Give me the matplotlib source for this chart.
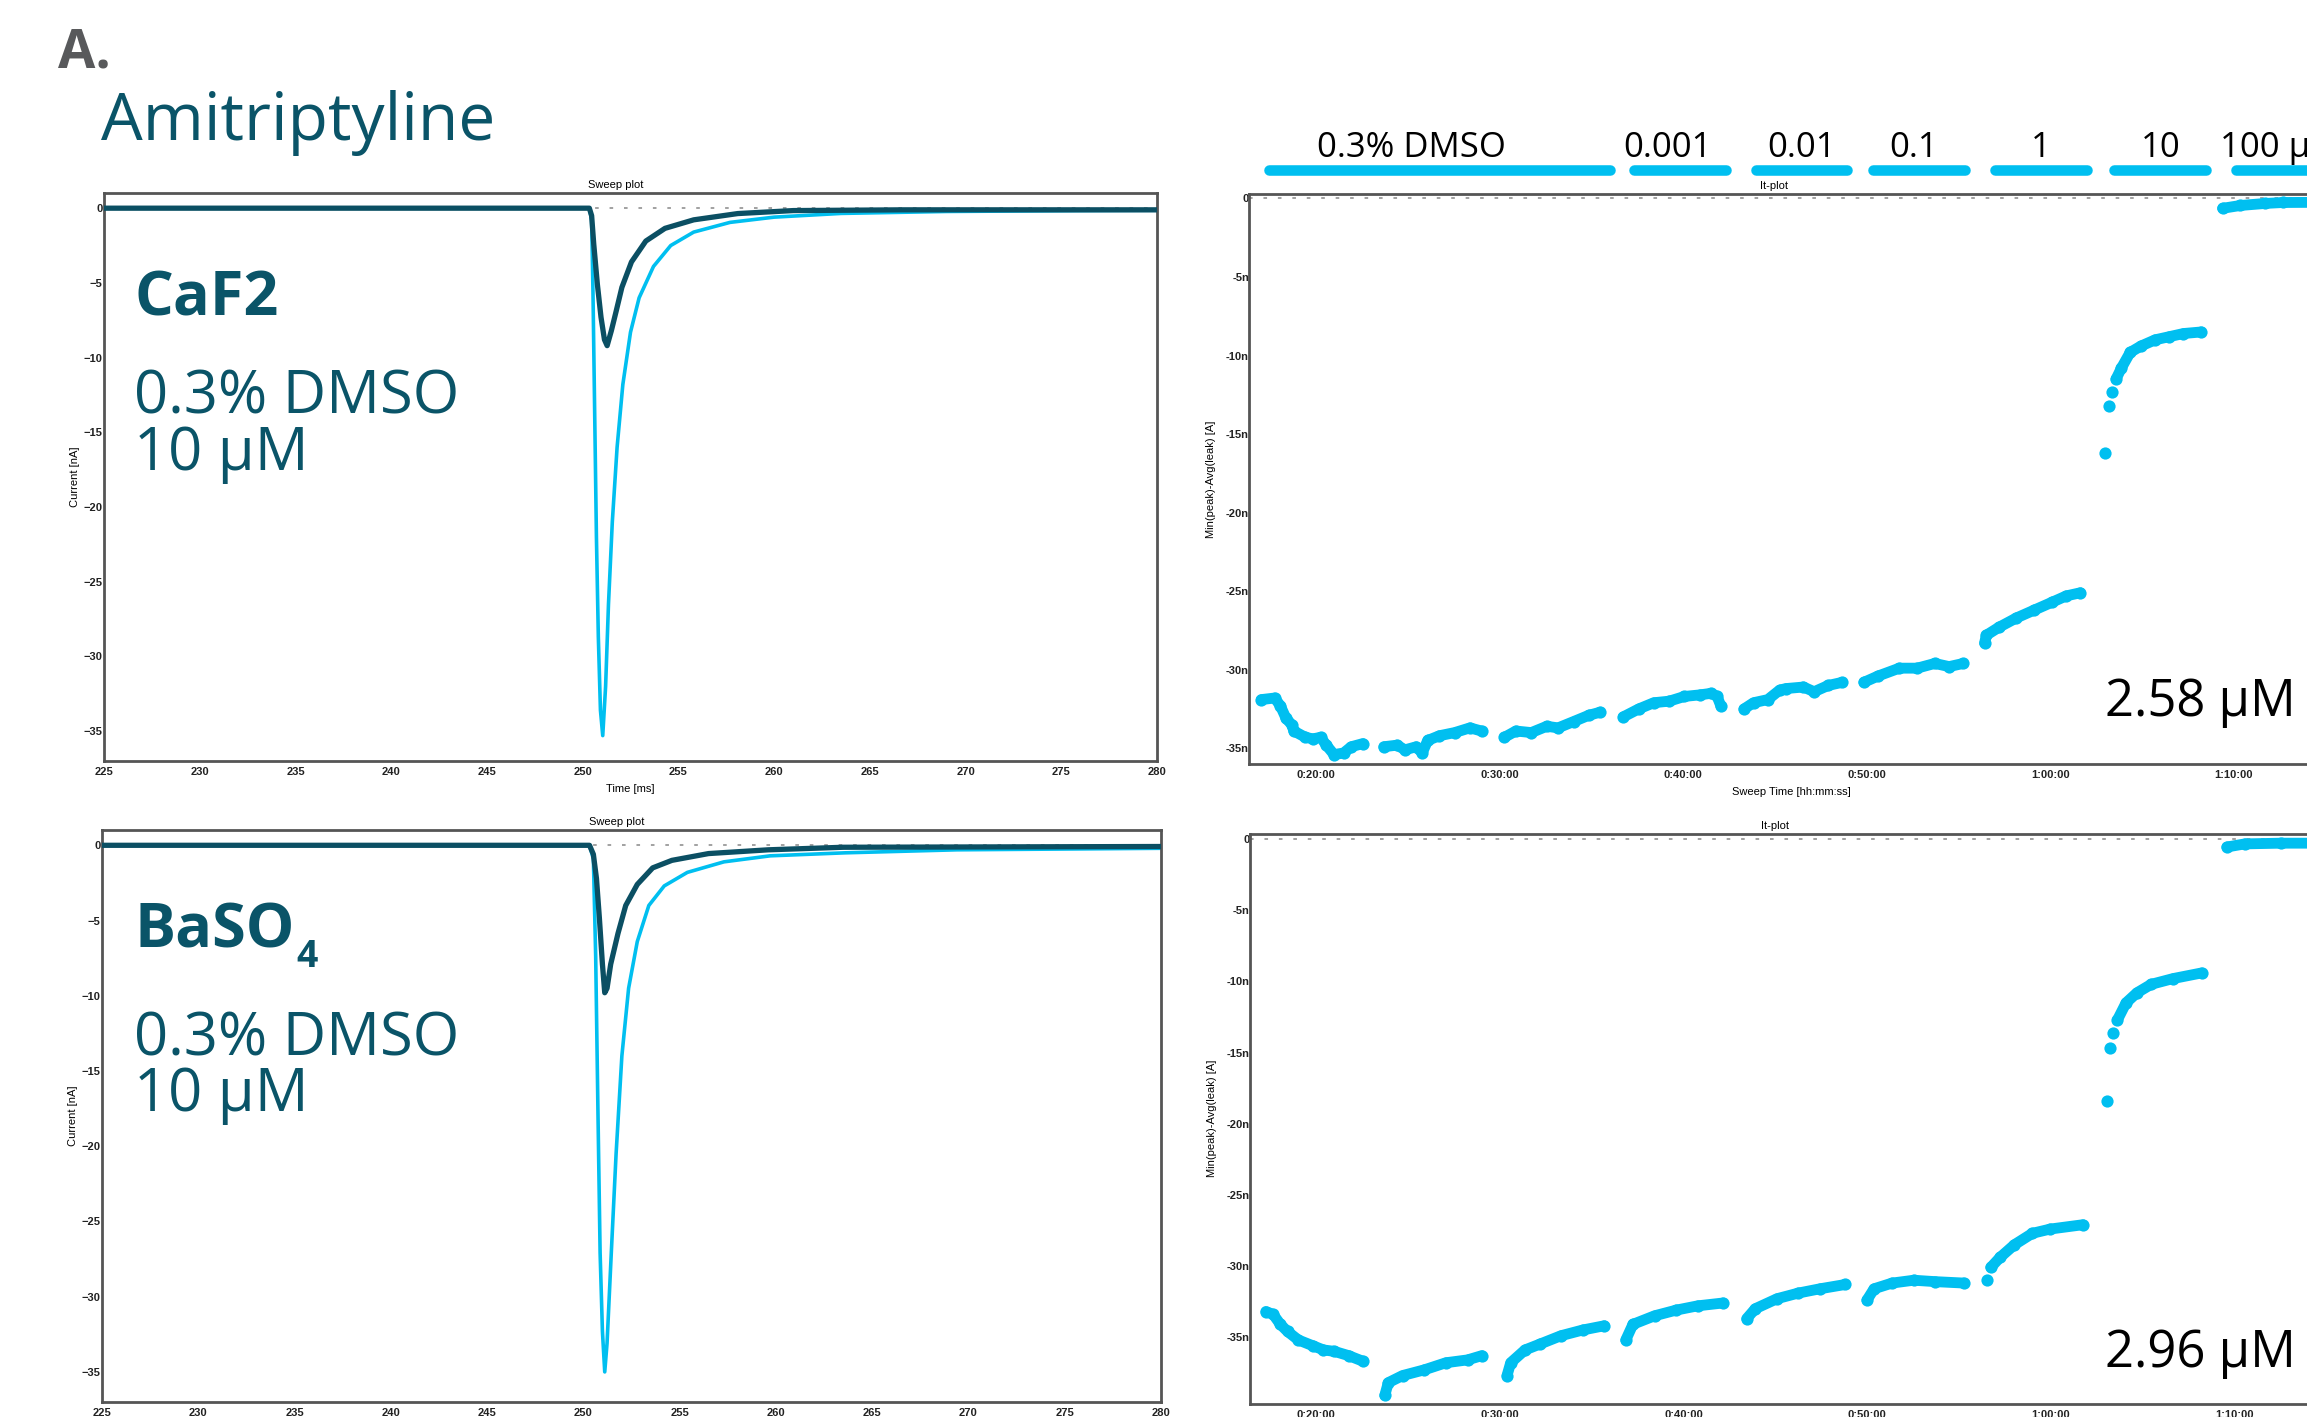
import matplotlib
matplotlib.use("Agg")
import matplotlib.pyplot as plt
from matplotlib.ticker import FuncFormatter, MultipleLocator
from matplotlib.transforms import blended_transform_factory

W, H, DPI = 2307, 1417, 100

# ---- sweep traces: time [ms], current [nA]
caf2_dmso_t = [225, 250.35, 250.47, 250.54, 250.63, 250.72, 250.82, 250.93, 251.05,
               251.2, 251.35, 251.55, 251.8, 252.1, 252.5, 252.95, 253.7,
               254.6, 255.8, 257.7, 260.0, 263.5, 269.0, 276.0, 280]
caf2_dmso_i = [0, 0, -0.8, -5.6, -13.8, -22.0, -28.7, -33.6, -35.3,
               -32.0, -26.5, -21.0, -16.0, -11.8, -8.3, -6.0, -3.9,
               -2.5, -1.6, -0.95, -0.6, -0.35, -0.22, -0.16, -0.14]
caf2_drug_t = [225, 250.35, 250.47, 250.58, 250.77, 250.96, 251.14, 251.28, 251.5,
               251.75, 252.05, 252.55, 253.3, 254.3, 255.8, 258.1, 261.0,
               266.7, 280]
caf2_drug_i = [0, 0, -0.5, -2.4, -5.1, -7.3, -8.8, -9.2, -8.2,
               -6.9, -5.3, -3.6, -2.2, -1.35, -0.78, -0.36, -0.16, -0.11, -0.11]

baso_dmso_t = [225, 250.32, 250.52, 250.64, 250.76, 250.87, 250.99, 251.11, 251.23,
               251.45, 251.7, 252.0, 252.35, 252.8, 253.4, 254.2, 255.4, 257.3,
               259.7, 263.6, 269.4, 280]
baso_dmso_i = [0, 0, -0.9, -7.4, -17.9, -27.1, -32.3, -35.0, -33.1,
               -27.1, -20.5, -14.0, -9.5, -6.4, -4.0, -2.7, -1.8, -1.1,
               -0.7, -0.5, -0.3, -0.2]
baso_drug_t = [225, 250.32, 250.52, 250.68, 250.83, 250.99, 251.11, 251.23, 251.42,
               251.8, 252.2, 252.8, 253.6, 254.6, 256.5, 259.6, 263.5, 280]
baso_drug_i = [0, 0, -0.6, -2.2, -4.8, -7.9, -9.8, -9.5, -7.9,
               -5.85, -4.0, -2.6, -1.5, -1.0, -0.55, -0.3, -0.13, -0.08]

# ---- It-plot points: sweep time [min], peak current [nA], one list per run of points
caf2_it = [
    ([17.04, 17.77, 18.08, 18.39, 18.7, 18.81, 19.44, 19.85, 20.27, 20.58, 21.0, 21.52, 21.94, 22.57],
     [-31.9, -31.8, -32.3, -33.1, -33.5, -33.9, -34.3, -34.4, -34.3, -34.8, -35.4, -35.3, -34.9, -34.7]),
    ([23.71, 24.44, 24.86, 25.48, 25.8, 26.1, 26.74, 27.57, 28.4, 29.03],
     [-34.9, -34.8, -35.1, -34.9, -35.3, -34.5, -34.2, -34.0, -33.7, -33.9]),
    ([30.28, 30.9, 31.74, 32.58, 33.2, 34.04, 34.87, 35.5],
     [-34.3, -33.9, -34.0, -33.6, -33.7, -33.3, -32.9, -32.7]),
    ([36.75, 37.58, 38.41, 39.25, 40.08, 40.92, 41.54, 41.86, 42.06],
     [-33.0, -32.5, -32.1, -32.0, -31.7, -31.6, -31.5, -31.7, -32.3]),
    ([43.32, 43.84, 44.62, 45.26, 45.59, 46.56, 47.14, 47.91, 48.68],
     [-32.5, -32.1, -31.9, -31.3, -31.2, -31.1, -31.4, -31.0, -30.8]),
    ([49.85, 50.62, 51.78, 52.75, 53.71, 54.49, 55.26],
     [-30.8, -30.4, -29.9, -29.9, -29.6, -29.8, -29.6]),
    ([56.42, 56.52, 57.2, 58.16, 59.13, 60.1, 60.87, 61.64],
     [-28.3, -27.8, -27.3, -26.7, -26.2, -25.7, -25.3, -25.1]),
    ([63.0], [-16.2]),
    ([63.19], [-13.2]),
    ([63.35], [-12.3]),
    ([63.58, 63.87, 64.35, 64.93, 65.71, 66.48, 67.25, 68.22],
     [-11.5, -10.8, -9.8, -9.4, -9.0, -8.8, -8.6, -8.5]),
    ([69.38, 70.35, 71.7, 72.67, 74.5],
     [-0.63, -0.45, -0.32, -0.26, -0.25]),
]
baso_it = [
    ([17.25, 17.65, 18.04, 18.43, 19.02, 19.8, 20.39, 20.98, 21.76, 22.55],
     [-33.2, -33.4, -34.1, -34.6, -35.2, -35.6, -35.9, -36.0, -36.3, -36.7]),
    ([23.73, 23.92, 24.7, 25.88, 27.06, 28.24, 29.02],
     [-39.1, -38.2, -37.7, -37.3, -36.8, -36.6, -36.3]),
    ([30.39, 30.59, 31.37, 32.16, 33.33, 34.51, 35.69],
     [-37.7, -36.8, -35.9, -35.5, -34.9, -34.5, -34.2]),
    ([36.86, 37.25, 38.43, 39.61, 40.78, 42.16],
     [-35.2, -34.1, -33.5, -33.1, -32.8, -32.6]),
    ([43.45, 43.92, 45.1, 46.27, 47.45, 48.82],
     [-33.7, -33.0, -32.3, -31.9, -31.6, -31.3]),
    ([50.0, 50.39, 51.37, 52.55, 53.73, 55.29],
     [-32.4, -31.6, -31.2, -31.0, -31.1, -31.2]),
    ([56.55], [-31.0]),
    ([56.75, 57.25, 58.04, 59.02, 60.0, 61.76],
     [-30.1, -29.4, -28.5, -27.7, -27.4, -27.1]),
    ([63.06], [-18.4]),
    ([63.25], [-14.7]),
    ([63.41], [-13.6]),
    ([63.65, 64.12, 64.71, 65.49, 66.67, 68.24],
     [-12.7, -11.5, -10.8, -10.2, -9.8, -9.4]),
    ([69.61, 70.59, 72.55, 74.5],
     [-0.55, -0.33, -0.28, -0.28]),
]

# ---- application bars above the It-plot (minutes)
conc_labels = ["0.3% DMSO", "0.001", "0.01", "0.1", "1", "10", "100 µM"]
bar_start = [17.16, 37.06, 43.71, 50.08, 56.72, 63.18, 69.85]
bar_end = [36.30, 42.62, 49.21, 55.61, 62.28, 68.76, 77.0]
label_pos = [25.2, 39.15, 46.45, 52.55, 59.5, 66.0, 72.55]

ic50_caf2 = "2.58 µM"
ic50_baso = "2.96 µM"

CYAN = "#00bff0"
DARK = "#0b4f63"
TEAL = "#0a5468"
SPINE = "#555555"
TICKFONT = "Liberation Sans"

plt.rcParams["font.family"] = ["Open Sans", "DejaVu Sans"]

fig = plt.figure(figsize=(W / DPI, H / DPI), dpi=DPI)


def add_ax(left, top, right, bottom):
    # positions given in pixels of the full picture
    return fig.add_axes([left / W, 1 - bottom / H, (right - left) / W, (bottom - top) / H])


def frame(ax):
    for s in ax.spines.values():
        s.set_color(SPINE)
        s.set_linewidth(2)
    ax.tick_params(length=0, labelsize=8, colors="#222222",
                   labelfontfamily=TICKFONT)
    ax.tick_params(axis="x", pad=4.5)
    ax.tick_params(axis="y", pad=1)


def bold_ticks(ax):
    for lab in ax.get_xticklabels() + ax.get_yticklabels():
        lab.set_fontweight("bold")


def sweep(ax, t_c, i_c, t_d, i_d, xlabel):
    ax.axhline(0, color="#9a9a9a", ls=(0, (2, 6)), lw=1.3, zorder=1)
    ax.plot(t_c, i_c, color=CYAN, lw=2.6, zorder=2)
    ax.plot(t_d, i_d, color=DARK, lw=3.8, zorder=3)
    ax.set_xlim(225, 280)
    ax.set_ylim(-37, 1.05)
    ax.xaxis.set_major_locator(MultipleLocator(5))
    ax.yaxis.set_major_locator(MultipleLocator(5))
    frame(ax)
    ax.text(0.486, 1.004, "Sweep plot", transform=ax.transAxes, ha="center",
            va="bottom", fontsize=8, family=TICKFONT)
    ax.set_ylabel("Current [nA]", fontsize=8, family=TICKFONT)
    ax.yaxis.set_label_coords(-0.023, 0.5)
    if xlabel:
        ax.set_xlabel("Time [ms]", fontsize=8, family=TICKFONT)
        ax.xaxis.set_label_coords(0.5, -0.04)


def hms(v, pos):
    s = int(round(v * 60))
    return f"{s // 3600}:{(s % 3600) // 60:02d}:{s % 60:02d}"


def nano(v, pos):
    return "0" if abs(v) < 1e-9 else f"{v:.0f}n"


def itplot(ax, runs, ylim, xlabel):
    ax.axhline(0, color="#9a9a9a", ls=(0, (2, 6)), lw=1.3, zorder=1)
    for t, v in runs:
        ax.plot(t, v, color=CYAN, lw=7.8, marker="o", ms=8.8, mew=0,
                solid_capstyle="round", solid_joinstyle="round", zorder=3)
    ax.set_xlim(16.37, 75.23)
    ax.set_ylim(*ylim)
    ax.xaxis.set_major_locator(MultipleLocator(10))
    ax.xaxis.set_major_formatter(FuncFormatter(hms))
    ax.yaxis.set_major_locator(MultipleLocator(5))
    ax.yaxis.set_major_formatter(FuncFormatter(nano))
    frame(ax)
    ax.tick_params(axis="y", pad=0)
    ax.text(0.486, 1.004, "It-plot", transform=ax.transAxes, ha="center",
            va="bottom", fontsize=8, family=TICKFONT)
    ax.set_ylabel("Min(peak)-Avg(leak) [A]", fontsize=8, family=TICKFONT)
    ax.yaxis.set_label_coords(-0.0305, 0.5)
    if xlabel:
        ax.set_xlabel("Sweep Time [hh:mm:ss]", fontsize=8, family=TICKFONT)
        ax.xaxis.set_label_coords(0.502, -0.04)


ax_tl = add_ax(104, 192.5, 1157, 761)
ax_bl = add_ax(102, 829.5, 1161, 1402)
ax_tr = add_ax(1249, 193.7, 2330, 764)
ax_br = add_ax(1249.7, 833.5, 2330, 1404)

sweep(ax_tl, caf2_dmso_t, caf2_dmso_i, caf2_drug_t, caf2_drug_i, True)
sweep(ax_bl, baso_dmso_t, baso_dmso_i, baso_drug_t, baso_drug_i, False)
itplot(ax_tr, caf2_it, (-36.0, 0.3), True)
itplot(ax_br, baso_it, (-39.7, 0.4), False)
for a in (ax_tl, ax_bl, ax_tr, ax_br):
    bold_ticks(a)

# application bars and concentration labels
tr = blended_transform_factory(ax_tr.transData, fig.transFigure)
inset = 0.28
for s, e in zip(bar_start, bar_end):
    ax_tr.plot([s + inset, e - inset], [1 - 170 / H] * 2, transform=tr, color=CYAN,
               lw=7.6, solid_capstyle="round", clip_on=False)
for lab, x in zip(conc_labels, label_pos):
    ax_tr.text(x, 1 - 157 / H, lab, transform=tr, ha="center", va="baseline",
               fontsize=25, color="black", clip_on=False)


def ftext(x, y, s, **kw):
    return fig.text(x / W, 1 - y / H, s, ha="left", va="baseline", **kw)


ftext(58, 67, "A.", fontsize=39, fontweight="bold", color="#58595b")
ftext(101, 140, "Amitriptyline", fontsize=47.5, color=TEAL)

ftext(134, 316, "CaF2", fontsize=44, fontweight="bold", color=TEAL)
ftext(134, 413, "0.3% DMSO", fontsize=43, color=TEAL)
ftext(134, 470, "10 µM", fontsize=43, color=TEAL)

baso = ftext(134, 948, "BaSO", fontsize=44, fontweight="bold", color=TEAL)
fig.canvas.draw()
bb = baso.get_window_extent()
fig.text(bb.x1 / W + 0.001, 1 - 967 / H, "4", ha="left", va="baseline",
         fontsize=27, fontweight="bold", color=TEAL)
ftext(134, 1055, "0.3% DMSO", fontsize=43, color=TEAL)
ftext(134, 1111, "10 µM", fontsize=43, color=TEAL)

ftext(2105, 716, ic50_caf2, fontsize=36.5, color="black")
ftext(2105, 1367, ic50_baso, fontsize=36.5, color="black")

fig.savefig("out.png", dpi=DPI)
